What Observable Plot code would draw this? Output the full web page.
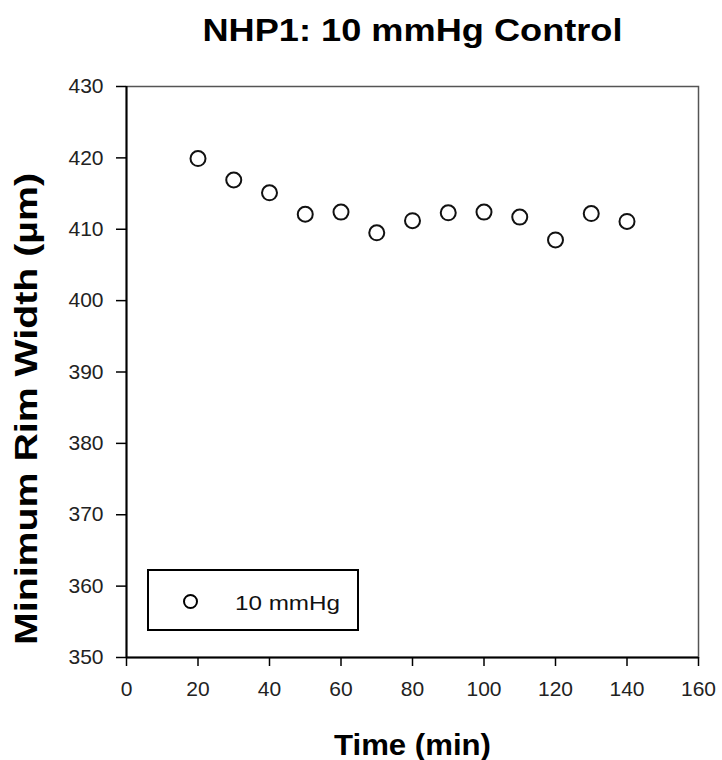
<!DOCTYPE html>
<html>
<head>
<meta charset="utf-8">
<script src="https://cdn.jsdelivr.net/npm/d3@7"></script>
<script src="https://cdn.jsdelivr.net/npm/@observablehq/plot@0.6"></script>
<style>
  html, body { margin: 0; padding: 0; background: #fff; }
  #wrap { position: relative; width: 722px; height: 760px; font-family: Arial, "Liberation Sans", sans-serif; }
  #legend { position: absolute; left: 147px; top: 569px; width: 208px; height: 58px; border: 2px solid #000; background: #fff; }
  #legend .sym { position: absolute; left: 34px; top: 23px; border: 2px solid #000; border-radius: 50%; box-sizing: border-box; width: 15px; height: 15px; }
  #legend svg { position: absolute; left: 86px; top: 17px; overflow: visible; }
</style>
</head>
<body>
<div id="wrap"></div>
<script>
const title = "NHP1: 10 mmHg Control";
const xLabel = "Time (min)";
const yLabel = "Minimum Rim Width (\u00b5m)";
const seriesName = "10 mmHg";
const times = [20, 30, 40, 50, 60, 70, 80, 90, 100, 110, 120, 130, 140];
const widths = [419.9, 416.9, 415.1, 412.1, 412.4, 409.5, 411.2, 412.3, 412.4, 411.7, 408.5, 412.2, 411.1];
const xTicks = [0, 20, 40, 60, 80, 100, 120, 140, 160];
const yTicks = [350, 360, 370, 380, 390, 400, 410, 420, 430];

const data = times.map((t, i) => ({time: t, width: widths[i]}));

const chart = Plot.plot({
  width: 722,
  height: 760,
  marginLeft: 126,
  marginRight: 24,
  marginTop: 86,
  marginBottom: 103,
  style: {fontFamily: "Arial, 'Liberation Sans', sans-serif", fontSize: "21px", background: "#fff", color: "#111", overflow: "visible"},
  x: {domain: [0, 160], ticks: xTicks},
  y: {domain: [350, 430], ticks: yTicks},
  marks: [
    Plot.frame({stroke: "#555", strokeWidth: 1.5}),
    Plot.axisX({ticks: xTicks, tickSize: 9, tickPadding: 15, fontSize: 21, label: null, stroke: "#000", strokeWidth: 1.5, fill: "#222"}),
    Plot.axisY({ticks: yTicks, tickSize: 10, tickPadding: 13, fontSize: 21, label: null, stroke: "#000", strokeWidth: 1.5, fill: "#222"}),
    Plot.ruleX([0], {stroke: "#000", strokeWidth: 2}),
    Plot.ruleY([350], {stroke: "#000", strokeWidth: 2}),
    Plot.dot(data, {x: "time", y: "width", r: 7.5, stroke: "#111", strokeWidth: 2, fill: "#fff"}),
    Plot.text([title], {frameAnchor: "top", lineAnchor: "middle", textAnchor: "middle", dy: -56, fontSize: 32, fontWeight: "bold", fill: "#000"}),
    Plot.text([xLabel], {frameAnchor: "bottom", lineAnchor: "middle", textAnchor: "middle", dy: 88, fontSize: 30, fontWeight: "bold", fill: "#000"}),
    Plot.text([yLabel], {frameAnchor: "left", lineAnchor: "middle", textAnchor: "middle", dx: -99, dy: 37, rotate: -90, fontSize: 31, fontWeight: "bold", fill: "#000"})
  ]
});
const wrap = document.getElementById("wrap");
wrap.appendChild(chart);

// stretch the bold titles to the reference widths
const lengths = new Map([[title, 420], [xLabel, 157], [yLabel, 472]]);
chart.querySelectorAll("text").forEach(t => {
  const L = lengths.get(t.textContent);
  if (L) { t.setAttribute("textLength", L); t.setAttribute("lengthAdjust", "spacingAndGlyphs"); }
});

const leg = document.createElement("div");
leg.id = "legend";
leg.innerHTML = `<div class="sym"></div><svg width="110" height="30"><text x="0" y="22" font-size="20" fill="#111" textLength="105" lengthAdjust="spacingAndGlyphs" font-family="Arial, 'Liberation Sans', sans-serif">${seriesName}</text></svg>`;
wrap.appendChild(leg);
</script>
</body>
</html>
